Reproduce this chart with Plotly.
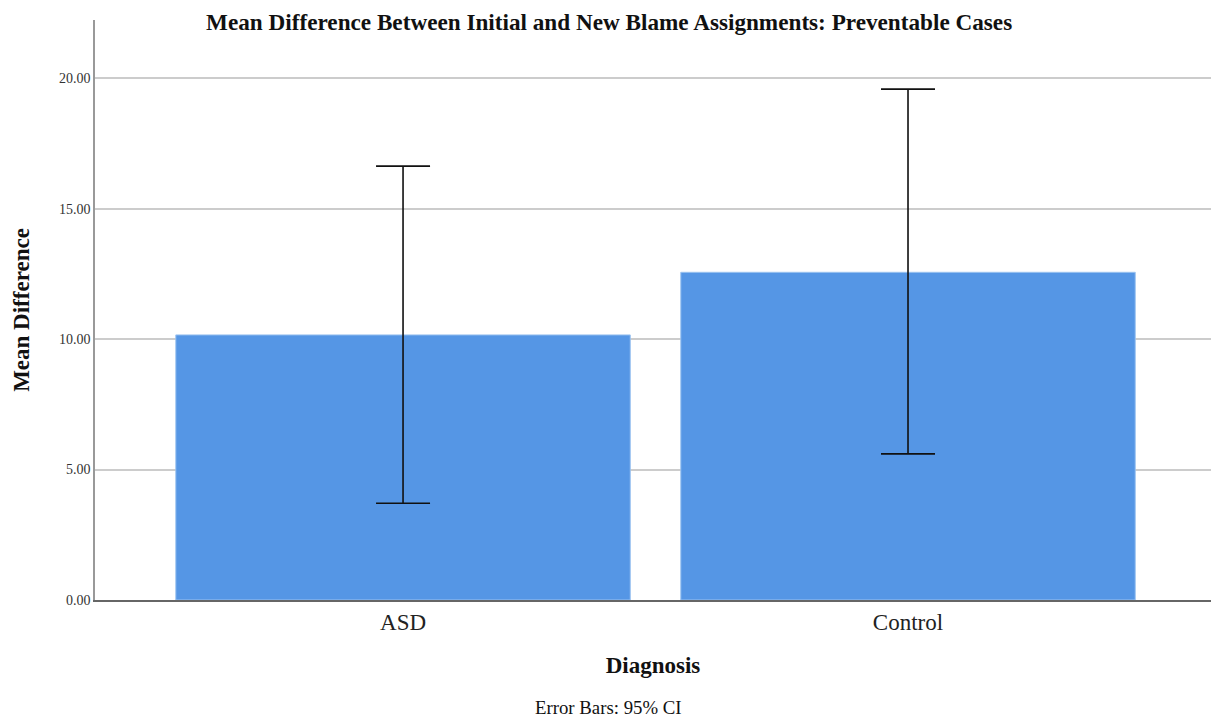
import plotly.graph_objects as go

categories = ["ASD", "Control"]
means = [10.16, 12.56]
ci_upper = [16.63, 19.58]
ci_lower = [3.71, 5.60]

err_plus = [u - m for u, m in zip(ci_upper, means)]
err_minus = [m - l for m, l in zip(means, ci_lower)]

fig = go.Figure()
fig.add_trace(go.Bar(
    x=categories,
    y=means,
    width=0.9,
    marker=dict(color="#5596E5", line=dict(color="#9cc3f0", width=1)),
    error_y=dict(type="data", symmetric=False, array=err_plus, arrayminus=err_minus,
                 color="#111111", thickness=1.6, width=27),
    hoverinfo="x+y",
))

font_family = "Liberation Serif, Times New Roman, serif"

fig.update_layout(
    width=1211, height=719,
    margin=dict(l=95, r=0, t=20, b=119),
    paper_bgcolor="white", plot_bgcolor="white",
    font=dict(family=font_family, color="#111111"),
    showlegend=False,
    bargap=0.1,
    title=dict(text="<b>Mean Difference Between Initial and New Blame Assignments: Preventable Cases</b>",
               x=0.503, xanchor="center", y=0.969, yanchor="middle",
               font=dict(size=23.2, family=font_family, color="#111111")),
    xaxis=dict(
        range=[-0.61, 1.60],
        showgrid=False,
        showline=True, linecolor="#666666", linewidth=2,
        ticks="", tickfont=dict(size=23, family=font_family, color="#222222"),
        title=dict(text="<b>Diagnosis</b>", font=dict(size=23, family=font_family, color="#111111"), standoff=23),
        fixedrange=True,
    ),
    yaxis=dict(
        range=[0, 22.23],
        tickvals=[0, 5, 10, 15, 20],
        tickformat=".2f",
        showgrid=True, gridcolor="#cccccc", gridwidth=1.5,
        showline=True, linecolor="#999999", linewidth=1.5,
        zeroline=False,
        ticks="", ticklen=0,
        tickfont=dict(size=14, family=font_family, color="#333333"),
        title=dict(text="<b>Mean Difference</b>", font=dict(size=23, family=font_family, color="#111111"), standoff=23),
    ),
    annotations=[
        dict(text="Error Bars: 95% CI", xref="paper", yref="paper",
             x=0.46, y=-0.186, xanchor="center", yanchor="middle", showarrow=False,
             font=dict(size=18.8, family=font_family, color="#111111")),
    ],
)

fig.write_html("out.html", config={"displayModeBar": False},
               post_script="document.body.style.margin='0';document.body.style.overflow='hidden';")
